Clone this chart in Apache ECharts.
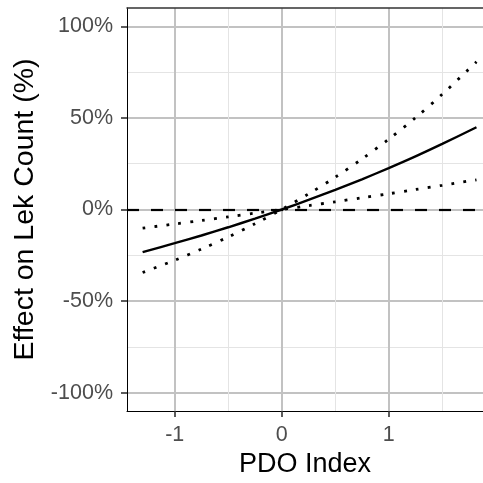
<!DOCTYPE html>
<html>
<head>
<meta charset="utf-8">
<script src="https://cdn.jsdelivr.net/npm/echarts@6/dist/echarts.min.js"></script>
<style>
html,body{margin:0;padding:0;background:#fff;}
#chart{width:483px;height:483px;}
</style>
</head>
<body>
<div id="chart"></div>
<script>
// PDO index values where the curves were read
var pdoX = [-1.3, -1.0, -0.75, -0.5, -0.25, 0, 0.25, 0.5, 0.75, 1.0, 1.25, 1.5, 1.82];
// Fitted effect on lek count (%)
var effectFit = [-23.3, -18.4, -14.2, -9.7, -5.0, 0, 5.2, 10.7, 16.5, 22.6, 29.0, 35.8, 44.9];
// Dotted band, steeper curve
var effectSteep = [-34.4, -27.7, -21.6, -15.0, -7.8, 0, 8.5, 17.6, 27.6, 38.4, 50.1, 62.9, 80.6];
// Dotted band, shallower curve
var effectShallow = [-10.2, -7.9, -6.0, -4.0, -2.0, 0, 2.1, 4.2, 6.4, 8.6, 10.9, 13.2, 16.2];
// Axis ticks
var xMajorTicks = [-1, 0, 1];
var xMinorTicks = [-0.5, 0.5, 1.5];
var yMajorTicks = [-100, -50, 0, 50, 100];
var yMinorTicks = [-75, -25, 25, 75];
var refLine = [0];

function pairs(xs, ys){ return xs.map(function(x,i){ return [x, ys[i]]; }); }

var FONT = 'Liberation Sans, Arial, sans-serif';
var xMin = -1.446, xMax = 1.881, yMin = -110, yMax = 110;

var chart = echarts.init(document.getElementById('chart'), null, {renderer:'canvas'});
chart.setOption({
  animation: false,
  backgroundColor: '#ffffff',
  grid: {left: 127, right: 0, top: 8, bottom: 68, containLabel: false},
  xAxis: [{
    type: 'value', min: xMin, max: xMax, position: 'bottom',
    axisLine: {show: true, onZero: false, lineStyle: {color: '#000', width: 1}},
    axisTick: {show: true, customValues: xMajorTicks, length: 6, lineStyle: {color: '#333', width: 1.6}},
    axisLabel: {show: true, customValues: xMajorTicks, fontSize: 21.5, color: '#4d4d4d', fontFamily: FONT, margin: 13},
    splitLine: {show: true, lineStyle: {color: '#c2c2c2', width: 2}},
    name: 'PDO Index', nameLocation: 'middle', nameGap: 40,
    nameTextStyle: {fontSize: 27, color: '#000', fontFamily: FONT}
  }, {
    type: 'value', min: xMin, max: xMax, position: 'top',
    axisLine: {show: true, onZero: false, lineStyle: {color: '#333', width: 1.5}},
    axisTick: {show: false, customValues: xMinorTicks},
    axisLabel: {show: false},
    splitLine: {show: true, lineStyle: {color: '#e4e4e4', width: 1}}
  }],
  yAxis: [{
    type: 'value', min: yMin, max: yMax, position: 'left',
    axisLine: {show: true, onZero: false, lineStyle: {color: '#000', width: 1}},
    axisTick: {show: true, customValues: yMajorTicks, length: 6, lineStyle: {color: '#333', width: 1.6}},
    axisLabel: {show: true, customValues: yMajorTicks, fontSize: 21.5, color: '#4d4d4d', fontFamily: FONT, margin: 14,
      formatter: function(v){ return v + '%'; }},
    splitLine: {show: true, lineStyle: {color: '#c2c2c2', width: 2}},
    name: 'Effect on Lek Count (%)', nameLocation: 'middle', nameGap: 78,
    nameTextStyle: {fontSize: 28.5, color: '#000', fontFamily: FONT}
  }, {
    type: 'value', min: yMin, max: yMax, position: 'right',
    axisLine: {show: false, onZero: false},
    axisTick: {show: false, customValues: yMinorTicks},
    axisLabel: {show: false},
    splitLine: {show: true, lineStyle: {color: '#e4e4e4', width: 1}}
  }],
  series: [{
    type: 'line', xAxisIndex: 0, yAxisIndex: 0, data: [], z: 2, silent: true,
    markLine: {
      silent: true, symbol: ['none','none'], label: {show: false},
      lineStyle: {color: '#000', width: 2.2, type: [12, 12]},
      data: refLine.map(function(v){ return {yAxis: v}; })
    }
  }, {
    type: 'line', xAxisIndex: 0, yAxisIndex: 0, data: pairs(pdoX, effectSteep),
    smooth: 0.3, showSymbol: false, z: 3,
    lineStyle: {color: '#000', width: 2.8, type: [2.8, 9.2], cap: 'butt'}
  }, {
    type: 'line', xAxisIndex: 0, yAxisIndex: 0, data: pairs(pdoX, effectShallow),
    smooth: 0.3, showSymbol: false, z: 3,
    lineStyle: {color: '#000', width: 2.8, type: [2.8, 9.2], cap: 'butt'}
  }, {
    type: 'line', xAxisIndex: 0, yAxisIndex: 0, data: pairs(pdoX, effectFit),
    smooth: 0.3, showSymbol: false, z: 4,
    lineStyle: {color: '#000', width: 2.4}
  }]
});
</script>
</body>
</html>
